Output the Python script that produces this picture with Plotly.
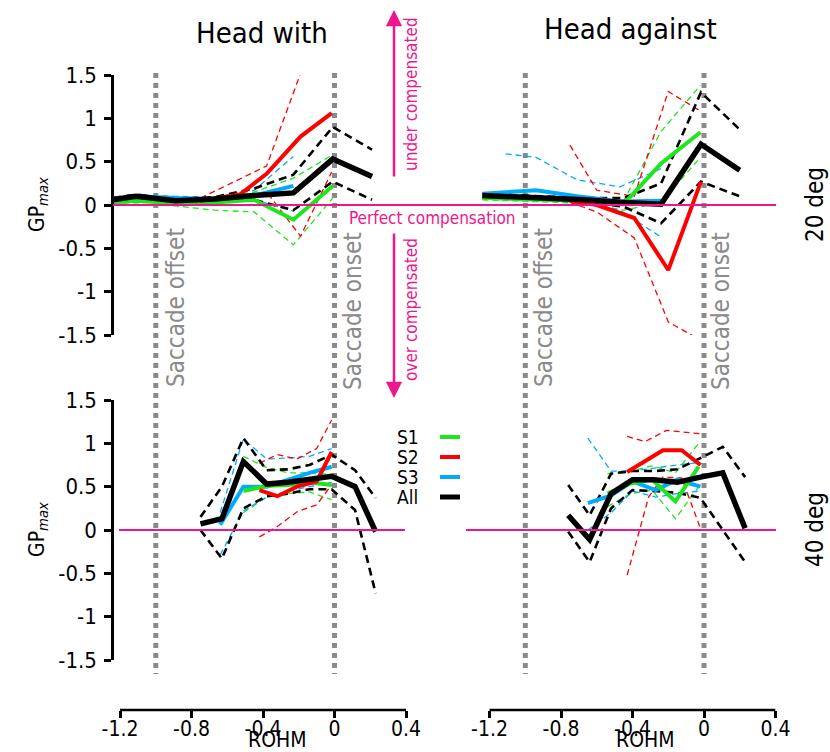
import plotly.graph_objects as go

# ---------------- data ----------------
# Top-left: 20 deg, Head with
TL_ALL_X = [-1.24, -1.11, -0.89, -0.67, -0.45, -0.23, -0.01, 0.21]
TL_ALL = [0.06, 0.10, 0.05, 0.07, 0.11, 0.14, 0.53, 0.33]
TL_ALL_HI = [0.08, 0.12, 0.07, 0.09, 0.19, 0.35, 0.90, 0.64]
TL_ALL_LO = [0.04, 0.08, 0.03, 0.05, 0.06, -0.06, 0.27, 0.06]
TL_S1_X = [-1.24, -1.11, -0.89, -0.67, -0.45, -0.23, -0.01]
TL_S1 = [0.03, 0.05, 0.02, 0.03, 0.06, -0.17, 0.22]
TL_S1_HI = [0.05, 0.07, 0.05, 0.06, 0.15, 0.31, 0.58]
TL_S1_LO = [0.01, 0.01, -0.01, -0.06, -0.08, -0.46, 0.08]
TL_S2_X = [-0.75, -0.53, -0.38, -0.19, -0.016]
TL_S2 = [0.05, 0.12, 0.36, 0.79, 1.06]
TL_S2_HI = [0.08, 0.30, 0.45, 1.52, None]
TL_S2_LO = [0.03, 0.04, 0.15, -0.36, 0.38]
TL_S3_X = [-1.24, -1.11, -0.89, -0.67, -0.45, -0.23]
TL_S3 = [0.07, 0.10, 0.08, 0.07, 0.11, 0.22]
TL_S3_HI = [0.09, 0.12, 0.10, 0.09, 0.17, 0.56]
TL_S3_LO = [0.05, 0.08, 0.06, 0.05, 0.06, -0.07]

# Top-right: 20 deg, Head against
TR_ALL_X = [-1.24, -1.11, -0.89, -0.67, -0.45, -0.24, -0.017, 0.20]
TR_ALL = [0.11, 0.10, 0.08, 0.06, 0.03, 0.01, 0.70, 0.40]
TR_ALL_HI = [0.13, 0.12, 0.10, 0.08, 0.08, 0.25, 1.30, 0.87]
TR_ALL_LO = [0.09, 0.08, 0.06, 0.04, -0.02, -0.21, 0.27, 0.10]
TR_S1_X = [-1.24, -1.11, -0.89, -0.67, -0.45, -0.24, -0.02]
TR_S1 = [0.08, 0.07, 0.06, 0.05, 0.01, 0.48, 0.84]
TR_S1_HI = [0.10, 0.09, 0.08, 0.07, 0.05, 0.85, 1.38]
TR_S1_LO = [0.06, 0.05, 0.04, 0.02, -0.06, 0.03, 0.55]
TR_S2_X = [-0.75, -0.60, -0.39, -0.20, -0.017]
TR_S2 = [0.05, 0.00, -0.15, -0.75, 0.27]
TR_S2_HI = [0.69, 0.17, 0.10, 1.31, 1.08]
TR_S2_LO = [0.03, -0.08, -0.38, -1.35, -1.56]
TR_S3_X = [-1.24, -1.11, -0.94, -0.71, -0.47, -0.24]
TR_S3 = [0.13, 0.15, 0.17, 0.10, 0.04, 0.05]
TR_S3_HI = [None, 0.59, 0.55, 0.29, 0.21, 0.42]
TR_S3_LO = [0.11, 0.12, 0.10, 0.05, -0.06, -0.37]

# Bottom-left: 40 deg, Head with
BL_ALL_X = [-0.75, -0.63, -0.51, -0.38, -0.26, -0.14, -0.016, 0.115, 0.23]
BL_ALL = [0.07, 0.13, 0.79, 0.53, 0.55, 0.58, 0.62, 0.50, -0.02]
BL_ALL_HI = [0.15, 0.50, 1.06, 0.69, 0.70, 0.75, 0.87, 0.69, 0.37]
BL_ALL_LO = [0.00, -0.33, 0.25, 0.39, 0.42, 0.47, 0.47, 0.23, -0.73]
BL_S1_X = [-0.51, -0.38, -0.26, -0.14, -0.016]
BL_S1 = [0.45, 0.51, 0.52, 0.55, 0.52]
BL_S1_HI = [0.85, 0.72, 0.66, 0.66, 0.64]
BL_S1_LO = [0.20, 0.38, 0.42, 0.44, 0.35]
BL_S2_X = [-0.42, -0.32, -0.21, -0.10, -0.016]
BL_S2 = [0.46, 0.39, 0.50, 0.56, 0.90]
BL_S2_HI = [0.77, 0.87, 0.82, 0.94, 1.27]
BL_S2_LO = [-0.08, 0.04, 0.21, 0.29, 0.52]
BL_S3_X = [-0.64, -0.51, -0.38, -0.26, -0.14, -0.016]
BL_S3 = [0.06, 0.50, 0.50, 0.58, 0.66, 0.73]
BL_S3_HI = [0.20, 1.05, 0.82, 0.83, 0.85, 0.94]
BL_S3_LO = [-0.29, 0.22, 0.38, 0.45, 0.50, 0.55]

# Bottom-right: 40 deg, Head against
BR_ALL_X = [-0.76, -0.64, -0.52, -0.40, -0.28, -0.15, -0.02, 0.105, 0.23]
BR_ALL = [0.17, -0.11, 0.42, 0.58, 0.58, 0.55, 0.61, 0.66, 0.02]
BR_ALL_HI = [0.52, 0.17, 0.65, 0.68, 0.68, 0.70, 0.83, 0.96, 0.61]
BR_ALL_LO = [-0.02, -0.37, 0.25, 0.46, 0.45, 0.43, 0.37, 0.00, -0.37]
BR_S1_X = [-0.54, -0.41, -0.29, -0.16, -0.03]
BR_S1 = [0.42, 0.54, 0.58, 0.33, 0.73]
BR_S1_HI = [0.65, 0.68, 0.74, 0.66, 1.00]
BR_S1_LO = [0.27, 0.42, 0.46, 0.13, 0.50]
BR_S2_X = [-0.43, -0.23, -0.125, -0.02]
BR_S2 = [0.67, 0.92, 0.92, 0.75]
BR_S2_HI_X = [-0.43, -0.33, -0.21, -0.02]
BR_S2_HI = [1.08, 1.02, 1.15, 1.11]
BR_S2_LO_X = [-0.43, -0.31, -0.23, -0.125, -0.02]
BR_S2_LO = [-0.52, 0.38, 0.61, 0.60, 0.02]
BR_S3_X = [-0.65, -0.52, -0.40, -0.27, -0.15, -0.02]
BR_S3 = [0.31, 0.40, 0.56, 0.46, 0.58, 0.50]
BR_S3_HI = [1.06, 0.68, 0.68, 0.72, 0.75, 0.78]
BR_S3_LO = [0.00, 0.20, 0.45, 0.38, 0.42, 0.45]

Y_TICKS = [-1.5, -1, -0.5, 0, 0.5, 1, 1.5]
Y_TICK_TEXT = ["-1.5", "-1", "-0.5", "0", "0.5", "1", "1.5"]
X_TICKS = [-1.2, -0.8, -0.4, 0, 0.4]
X_TICK_TEXT = ["-1.2", "-0.8", "-0.4", "0", "0.4"]
EVENTS = [-1.0, 0.0]
LEGEND_LABELS = ["S1", "S2", "S3", "All"]

# ---------------- styling ----------------
W, H = 830, 752
GREEN, RED, BLUE, BLACK = "#1ee61e", "#ff0000", "#00aaff", "#000000"
PINK = "#ee168c"
GRAY = "#8a8a8a"
FONT = "DejaVu Sans Condensed, DejaVu Sans"


def px(x):
    return x / W


def py(y):
    return 1 - y / H


fig = go.Figure()


def add_band(xa, ya, x, lo, hi, color, band_w, band_dash, lo_x=None, hi_x=None):
    for xs, ys in ((hi_x or x, hi), (lo_x or x, lo)):
        fig.add_trace(go.Scatter(x=xs, y=ys, mode="lines", xaxis=xa, yaxis=ya,
                                 line=dict(color=color, width=band_w, dash=band_dash),
                                 hoverinfo="skip", showlegend=False))


def add_solid(xa, ya, x, y, color, w):
    fig.add_trace(go.Scatter(x=x, y=y, mode="lines", xaxis=xa, yaxis=ya,
                             line=dict(color=color, width=w),
                             hoverinfo="skip", showlegend=False))


panels = [
    ("x", "y", (TL_ALL_X, TL_ALL, TL_ALL_LO, TL_ALL_HI), (TL_S1_X, TL_S1, TL_S1_LO, TL_S1_HI),
     (TL_S2_X, TL_S2, TL_S2_LO, TL_S2_HI, None, None), (TL_S3_X, TL_S3, TL_S3_LO, TL_S3_HI)),
    ("x2", "y2", (TR_ALL_X, TR_ALL, TR_ALL_LO, TR_ALL_HI), (TR_S1_X, TR_S1, TR_S1_LO, TR_S1_HI),
     (TR_S2_X, TR_S2, TR_S2_LO, TR_S2_HI, None, None), (TR_S3_X, TR_S3, TR_S3_LO, TR_S3_HI)),
    ("x3", "y3", (BL_ALL_X, BL_ALL, BL_ALL_LO, BL_ALL_HI), (BL_S1_X, BL_S1, BL_S1_LO, BL_S1_HI),
     (BL_S2_X, BL_S2, BL_S2_LO, BL_S2_HI, None, None), (BL_S3_X, BL_S3, BL_S3_LO, BL_S3_HI)),
    ("x4", "y4", (BR_ALL_X, BR_ALL, BR_ALL_LO, BR_ALL_HI), (BR_S1_X, BR_S1, BR_S1_LO, BR_S1_HI),
     (BR_S2_X, BR_S2, BR_S2_LO, BR_S2_HI, BR_S2_LO_X, BR_S2_HI_X), (BR_S3_X, BR_S3, BR_S3_LO, BR_S3_HI)),
]

DASH_THIN = "6px,4px"
DASH_BLACK = "8px,5px"
for xa, ya, a, s1, s2, s3 in panels:
    add_band(xa, ya, s1[0], s1[2], s1[3], GREEN, 1.3, DASH_THIN)
    add_band(xa, ya, s3[0], s3[2], s3[3], BLUE, 1.3, DASH_THIN)
    add_band(xa, ya, s2[0], s2[2], s2[3], RED, 1.3, DASH_THIN, lo_x=s2[4], hi_x=s2[5])
    add_band(xa, ya, a[0], a[2], a[3], BLACK, 2.6, DASH_BLACK)
    add_solid(xa, ya, s3[0], s3[1], BLUE, 4)
    add_solid(xa, ya, s1[0], s1[1], GREEN, 4)
    add_solid(xa, ya, s2[0], s2[1], RED, 4)
    add_solid(xa, ya, a[0], a[1], BLACK, 5.5)

# ---------------- axes ----------------
XR = [-1.245, 0.4]
LEFT_DOM = [px(112), px(406)]
RIGHT_DOM = [px(481.5), px(775.5)]
TOP_DOM = [py(335), py(75)]
BOT_DOM = [py(660), py(400)]
XAX_POS = py(710)

hidden = dict(visible=False, showgrid=False, zeroline=False, fixedrange=True, automargin=False)
yshow = dict(range=[-1.5, 1.5], tickmode="array", tickvals=Y_TICKS, ticktext=Y_TICK_TEXT,
             showline=True, linecolor="black", linewidth=2.5, ticks="outside", ticklen=7,
             tickwidth=2.5, tickcolor="black", showgrid=False, zeroline=False,
             tickfont=dict(family=FONT, size=22, color="black"), anchor="free",
             position=px(112), ticklabelstandoff=3, automargin=False)
xshow = dict(range=XR, tickmode="array", tickvals=X_TICKS, ticktext=X_TICK_TEXT,
             showline=False, ticks="outside", ticklen=7, tickwidth=2.5, tickcolor="black",
             showgrid=False, zeroline=False, tickfont=dict(family=FONT, size=21, color="black"),
             anchor="free", position=XAX_POS, ticklabelstandoff=-7, automargin=False)

fig.update_layout(
    xaxis=dict(domain=LEFT_DOM, range=XR, anchor="y", **hidden),
    yaxis=dict(domain=TOP_DOM, **yshow),
    xaxis2=dict(domain=RIGHT_DOM, range=XR, anchor="y2", **hidden),
    yaxis2=dict(domain=TOP_DOM, range=[-1.5, 1.5], anchor="x2", **hidden),
    xaxis3=dict(domain=LEFT_DOM, **xshow),
    yaxis3=dict(domain=BOT_DOM, **yshow),
    xaxis4=dict(domain=RIGHT_DOM, **xshow),
    yaxis4=dict(domain=BOT_DOM, range=[-1.5, 1.5], anchor="x4", **hidden),
)

shapes = []
for xr in ("x3", "x4"):
    shapes.append(dict(type="line", xref=xr, yref="paper", x0=X_TICKS[0], x1=X_TICKS[-1],
                       y0=XAX_POS, y1=XAX_POS, line=dict(color="black", width=2.5)))
for xr in ("x", "x2"):
    for ev in EVENTS:
        shapes.append(dict(type="line", xref=xr, yref="paper", x0=ev, x1=ev,
                           y0=py(73), y1=py(674), line=dict(color=GRAY, width=5, dash="5px,5px"),
                           layer="below"))
shapes.append(dict(type="line", xref="paper", yref="y", x0=px(113), x1=px(776), y0=0, y1=0,
                   line=dict(color=PINK, width=2)))
shapes.append(dict(type="line", xref="paper", yref="y3", x0=px(119), x1=px(405), y0=0, y1=0,
                   line=dict(color=PINK, width=2)))
shapes.append(dict(type="line", xref="paper", yref="y3", x0=px(466), x1=px(776), y0=0, y1=0,
                   line=dict(color=PINK, width=2)))
legend_colors = [GREEN, RED, BLUE, BLACK]
for i, c in enumerate(legend_colors):
    yy = 437 + 20 * i
    shapes.append(dict(type="line", xref="paper", yref="paper", x0=px(440), x1=px(460),
                       y0=py(yy), y1=py(yy), line=dict(color=c, width=4 if c != BLACK else 5)))
fig.update_layout(shapes=shapes)

ann = []


def text(x, y, t, size, color="black", angle=0, xanchor="center"):
    ann.append(dict(x=px(x), y=py(y), xref="paper", yref="paper", text=t, showarrow=False,
                    font=dict(family=FONT, size=size, color=color), textangle=angle,
                    xanchor=xanchor, yanchor="middle"))


text(262, 33, "Head with", 29)
text(630, 29, "Head against", 29)
text(815, 205, "20 deg", 24, angle=-90)
text(815, 530, "40 deg", 24, angle=-90)
text(38, 205, "GP<sub><i>max</i></sub>", 21, angle=-90)
text(38, 530, "GP<sub><i>max</i></sub>", 21, angle=-90)
for xx, t, yy in ((176, "Saccade offset", 308), (353, "Saccade onset", 311),
                  (544, "Saccade offset", 308), (721, "Saccade onset", 311)):
    text(xx, yy, t, 24, color=GRAY, angle=-90)
text(432, 218, "Perfect compensation", 17, color=PINK)
text(411, 94, "under compensated", 17, color=PINK, angle=-90)
text(411, 310, "over compensated", 17, color=PINK, angle=-90)
for i, lab in enumerate(LEGEND_LABELS):
    text(395, 437 + 20 * i, lab, 19, xanchor="left")
text(277, 740, "ROHM", 21)
text(645, 740, "ROHM", 21)

ann.append(dict(x=px(394), y=py(10), xref="paper", yref="paper", ax=0, ay=168, axref="pixel",
                ayref="pixel", showarrow=True, arrowhead=2, arrowsize=1.3, arrowwidth=2.5,
                arrowcolor=PINK, text=""))
ann.append(dict(x=px(394), y=py(398), xref="paper", yref="paper", ax=0, ay=-166, axref="pixel",
                ayref="pixel", showarrow=True, arrowhead=2, arrowsize=1.3, arrowwidth=2.5,
                arrowcolor=PINK, text=""))
fig.update_layout(annotations=ann)

fig.update_layout(width=W, height=H, margin=dict(l=0, r=0, t=0, b=0, autoexpand=False),
                  paper_bgcolor="white", plot_bgcolor="white", showlegend=False)

fig.write_html("out.html", config={"displayModeBar": False},
               post_script="document.body.style.margin='0';document.body.style.overflow='hidden';")
